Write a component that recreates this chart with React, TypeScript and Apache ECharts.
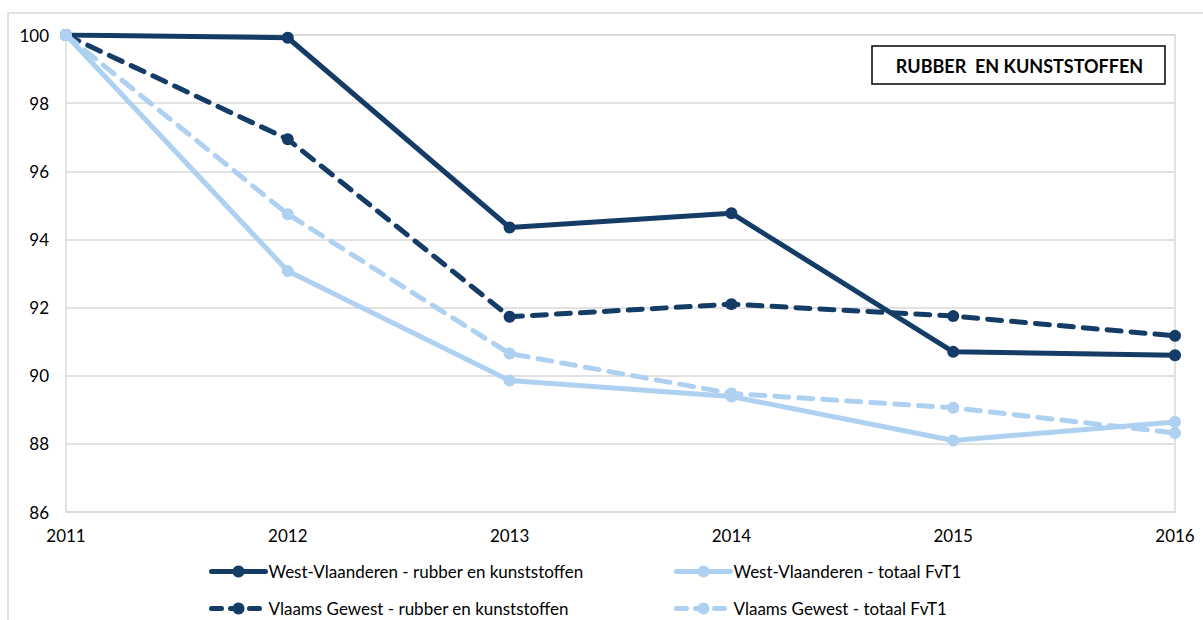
import React, { useEffect, useRef } from "react";
import * as echarts from "echarts";

const years = ["2011", "2012", "2013", "2014", "2015", "2016"];
const westRubber = [100, 99.92, 94.35, 94.77, 90.7, 90.6];
const vlaamsRubber = [100, 96.94, 91.73, 92.1, 91.75, 91.17];
const westTotaal = [100, 93.07, 89.86, 89.39, 88.1, 88.64];
const vlaamsTotaal = [100, 94.74, 90.65, 89.48, 89.06, 88.32];

const nameWR = "West-Vlaanderen - rubber en kunststoffen";
const nameWT = "West-Vlaanderen - totaal FvT1";
const nameVR = "Vlaams Gewest - rubber en kunststoffen";
const nameVT = "Vlaams Gewest - totaal FvT1";

const DARK = "#143c66";
const LIGHT = "#aed1f2";
const FONT = "Lato, 'Open Sans', sans-serif";

function mkSeries(name: string, data: number[], color: string, dashed: boolean, z: number) {
  return {
    name,
    type: "line",
    data,
    z,
    symbol: "circle",
    symbolSize: 12,
    itemStyle: { color },
    lineStyle: { color, width: 5, type: dashed ? [14, 10] : "solid", cap: "round" },
  };
}

export default function App() {
  const ref = useRef<HTMLDivElement>(null);
  useEffect(() => {
    const chart = echarts.init(ref.current!, undefined, { renderer: "svg" });
    const legendBase = {
      itemWidth: 54,
      itemHeight: 15,
      itemGap: 4,
      textStyle: { fontFamily: FONT, fontSize: 17, color: "#000", padding: [0, 0, 0, -2] },
    };
    const leg = (name: string, color: string, dashed: boolean, left: number, top: number) => ({
      ...legendBase,
      left,
      top,
      data: [{ name, lineStyle: { color, width: 5, type: dashed ? [10, 9] : "solid", cap: "round" } }],
    });
    chart.setOption({
      animation: false,
      grid: {
        left: 66,
        right: 28,
        top: 35,
        bottom: 108,
        show: true,
        borderColor: "#d9d9d9",
        borderWidth: 1.5,
      },
      xAxis: {
        type: "category",
        data: years,
        boundaryGap: false,
        axisLine: { show: false },
        axisTick: { show: false },
        splitLine: { show: false },
        axisLabel: { fontFamily: FONT, fontSize: 17, color: "#000", margin: 15 },
      },
      yAxis: {
        type: "value",
        min: 86,
        max: 100,
        interval: 2,
        axisLine: { show: false },
        axisTick: { show: false },
        splitLine: { lineStyle: { color: "#d9d9d9", width: 1.5 } },
        axisLabel: { fontFamily: FONT, fontSize: 17, color: "#000", margin: 17 },
      },
      legend: [
        leg(nameWR, DARK, false, 204, 558),
        leg(nameWT, LIGHT, false, 669, 558),
        leg(nameVR, DARK, true, 204, 595),
        leg(nameVT, LIGHT, true, 669, 595),
      ],
      graphic: [
        {
          type: "rect",
          shape: { x: 8, y: 13, width: 1300, height: 700 },
          style: { fill: "none", stroke: "#d9d9d9", lineWidth: 1.5 },
          silent: true,
        },
        {
          type: "rect",
          shape: { x: 872, y: 46, width: 293, height: 38 },
          style: { fill: "#fff", stroke: "#000", lineWidth: 1.5 },
          z: 100,
        },
        {
          type: "text",
          x: 1019.5,
          y: 66,
          z: 101,
          style: {
            text: "RUBBER  EN KUNSTSTOFFEN",
            fontFamily: FONT,
            fontWeight: "bold",
            fontSize: 18,
            fill: "#000",
            align: "center",
            verticalAlign: "middle",
          },
        },
      ],
      series: [
        mkSeries(nameWR, westRubber, DARK, false, 2),
        mkSeries(nameVR, vlaamsRubber, DARK, true, 3),
        mkSeries(nameWT, westTotaal, LIGHT, false, 4),
        mkSeries(nameVT, vlaamsTotaal, LIGHT, true, 5),
      ],
    });
    return () => chart.dispose();
  }, []);
  return (
    <div
      ref={ref}
      style={{ position: "fixed", left: 0, top: 0, width: 1203, height: 620, background: "#fff" }}
    />
  );
}
